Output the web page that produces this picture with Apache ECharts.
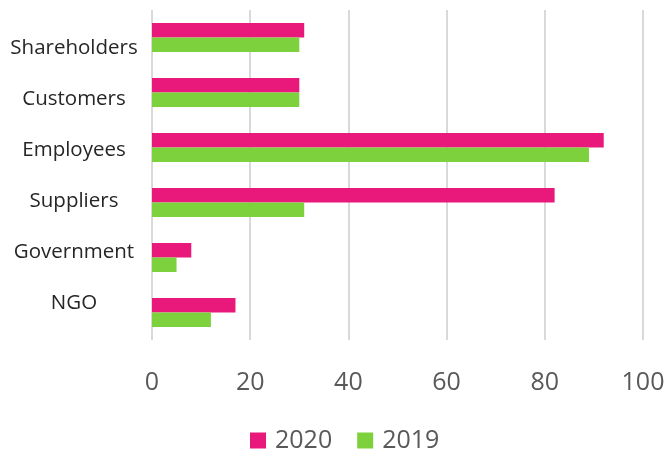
<!DOCTYPE html>
<html>
<head>
<meta charset="utf-8">
<script src="https://cdn.jsdelivr.net/npm/echarts@6/dist/echarts.min.js"></script>
<style>
  html, body { margin: 0; padding: 0; background: #fff; }
  #chart { width: 670px; height: 451px; }
</style>
</head>
<body>
<div id="chart"></div>
<script>
// stakeholder groups, top to bottom
var categories = ['Shareholders', 'Customers', 'Employees', 'Suppliers', 'Government', 'NGO'];
var values2020 = [31, 30, 92, 82, 8, 17];
var values2019 = [30, 30, 89, 31, 5, 12];
var xTicks = [0, 20, 40, 60, 80, 100];

var myChart = echarts.init(document.getElementById('chart'));
var option = {
    color: ['#E8197A', '#7DD13D'],
    animation: false,
    legend: {
        left: 245,
        top: 423,
        itemWidth: 16,
        itemHeight: 16,
        itemGap: 25,
        icon: 'rect',
        textStyle: {
            fontFamily: 'Open Sans',
            fontSize: 25,
            color: '#595959',
            padding: [0, 0, 0, 4]
        },
        data: ['2020', '2019']
    },
    grid: [{
        // bars
        left: 152,
        right: 27,
        top: 10,
        bottom: 111
    }, {
        // category labels (a bit tighter than the bar bands, like the original)
        left: 152,
        right: 27,
        top: 23,
        height: 306
    }],
    xAxis: [{
        gridIndex: 0,
        type: 'value',
        min: 0,
        max: 100,
        interval: 20,
        axisLine: { show: false },
        axisTick: { show: false },
        splitLine: { lineStyle: { color: '#D9D9D9', width: 2 } },
        axisLabel: {
            margin: 30,
            fontFamily: 'Open Sans',
            fontSize: 25,
            color: '#595959',
            formatter: function (v) { return xTicks.indexOf(v) >= 0 ? String(v) : ''; }
        }
    }, {
        gridIndex: 1,
        type: 'value',
        show: false
    }],
    yAxis: [{
        gridIndex: 0,
        type: 'category',
        inverse: true,
        data: categories,
        axisLine: { show: false },
        axisTick: { show: false },
        axisLabel: { show: false }
    }, {
        gridIndex: 1,
        type: 'category',
        inverse: true,
        data: categories,
        axisLine: { show: false },
        axisTick: { show: false },
        axisLabel: {
            align: 'center',
            margin: 78,
            fontFamily: 'Open Sans',
            fontSize: 20.5,
            color: '#262626'
        }
    }],
    series: [{
        name: '2020',
        type: 'bar',
        xAxisIndex: 0,
        yAxisIndex: 0,
        barWidth: 14.5,
        barGap: '0%',
        data: values2020
    }, {
        name: '2019',
        type: 'bar',
        xAxisIndex: 0,
        yAxisIndex: 0,
        barWidth: 14.5,
        barGap: '0%',
        data: values2019
    }]
};
option && myChart.setOption(option);
</script>
</body>
</html>
